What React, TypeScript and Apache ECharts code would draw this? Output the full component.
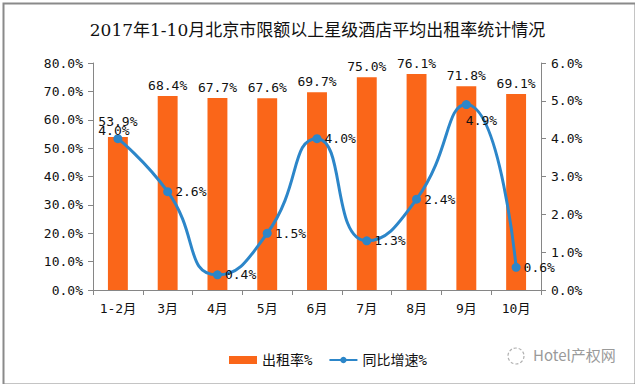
import React, { useEffect, useRef } from "react";
import * as echarts from "echarts";

const categories = ["1-2月", "3月", "4月", "5月", "6月", "7月", "8月", "9月", "10月"];
const occupancy = [53.9, 68.4, 67.7, 67.6, 69.7, 75.0, 76.1, 71.8, 69.1];
const growth = [4.0, 2.6, 0.4, 1.5, 4.0, 1.3, 2.4, 4.9, 0.6];
const leftTicks = { min: 0, max: 80, interval: 10 };
const rightTicks = { min: 0, max: 6, interval: 1 };
const title = "2017年1-10月北京市限额以上星级酒店平均出租率统计情况";
const seriesNames = ["出租率%", "同比增速%"];
const sourceText = "Hotel产权网";

const NUM_FONT = "'DejaVu Sans Mono', 'Noto Sans CJK SC', monospace";
const AXIS_COLOR = "#868686";

export default function App() {
  const ref = useRef<HTMLDivElement>(null);
  useEffect(() => {
    document.body.style.margin = "0";
    const chart = echarts.init(ref.current!, null, { renderer: "svg" });
    chart.setOption({
      animation: false,
      backgroundColor: "#ffffff",
      title: {
        text: title,
        left: "center",
        top: 16,
        textStyle: {
          fontSize: 17,
          fontWeight: "normal",
          color: "#111",
          fontFamily: "'DejaVu Serif', 'Noto Sans CJK SC', serif",
        },
      },
      grid: { left: 93, right: 94, top: 63, bottom: 94 },
      legend: {
        bottom: 12,
        left: 224,
        itemWidth: 28,
        itemHeight: 8,
        itemGap: 16,
        textStyle: { fontSize: 14, color: "#111", fontFamily: NUM_FONT },
        data: [
          { name: seriesNames[0], icon: "rect" },
          { name: seriesNames[1] },
        ],
      },
      xAxis: {
        type: "category",
        data: categories,
        axisLine: { lineStyle: { color: AXIS_COLOR } },
        axisTick: { show: true, length: 5, lineStyle: { color: AXIS_COLOR } },
        axisLabel: { color: "#111", fontSize: 13, margin: 12, fontFamily: NUM_FONT },
      },
      yAxis: [
        {
          type: "value",
          ...leftTicks,
          axisLine: { show: true, lineStyle: { color: AXIS_COLOR } },
          axisTick: { show: true, length: 5, lineStyle: { color: AXIS_COLOR } },
          splitLine: { show: false },
          axisLabel: {
            color: "#111",
            fontSize: 13,
            margin: 10,
            fontFamily: NUM_FONT,
            formatter: (v: number) => v.toFixed(1) + "%",
          },
        },
        {
          type: "value",
          ...rightTicks,
          axisLine: { show: true, lineStyle: { color: AXIS_COLOR } },
          axisTick: { show: true, length: 5, lineStyle: { color: AXIS_COLOR } },
          splitLine: { show: false },
          axisLabel: {
            color: "#111",
            fontSize: 13,
            margin: 10,
            fontFamily: NUM_FONT,
            formatter: (v: number) => v.toFixed(1) + "%",
          },
        },
      ],
      series: [
        {
          name: seriesNames[0],
          type: "bar",
          data: occupancy.map((v, i) => ({
            value: v,
            label: i === 0 ? { distance: 9 } : {},
          })),
          barWidth: "40%",
          itemStyle: { color: "#FA6619" },
          label: {
            show: true,
            position: "top",
            distance: 4,
            color: "#111",
            fontSize: 13,
            fontFamily: NUM_FONT,
            formatter: (p: any) => p.value.toFixed(1) + "%",
          },
        },
        {
          name: seriesNames[1],
          type: "line",
          yAxisIndex: 1,
          smooth: 0.55,
          symbol: "circle",
          symbolSize: 9,
          lineStyle: { color: "#2C86C9", width: 3 },
          itemStyle: { color: "#2C86C9" },
          data: growth.map((v, i) => ({
            value: v,
            label:
              i === 0
                ? { position: "top", distance: -3, offset: [-4, 0] }
                : i === 7
                ? { position: "right", offset: [-8, 16] }
                : { position: "right", distance: 3 },
          })),
          label: {
            show: true,
            position: "right",
            distance: 3,
            color: "#111",
            fontSize: 13,
            fontFamily: NUM_FONT,
            formatter: (p: any) => p.value.toFixed(1) + "%",
          },
          z: 5,
        },
      ],
      graphic: [
        {
          type: "rect",
          left: 1,
          top: 1,
          shape: { width: 632, height: 381 },
          style: { fill: "none", stroke: "#8a8a8a", lineWidth: 2 },
          silent: true,
        },
        {
          type: "text",
          left: 533,
          top: 347,
          style: {
            text: sourceText,
            fill: "#9a9a9a",
            fontSize: 15,
            fontFamily: "'Noto Sans CJK SC', sans-serif",
          },
        },
        {
          type: "circle",
          shape: { cx: 516, cy: 356, r: 8 },
          style: { fill: "none", stroke: "#b0b0b0", lineWidth: 1.2, lineDash: [3, 2] },
        },
      ],
    });
    return () => chart.dispose();
  }, []);
  return <div ref={ref} style={{ width: 635, height: 384 }} />;
}
